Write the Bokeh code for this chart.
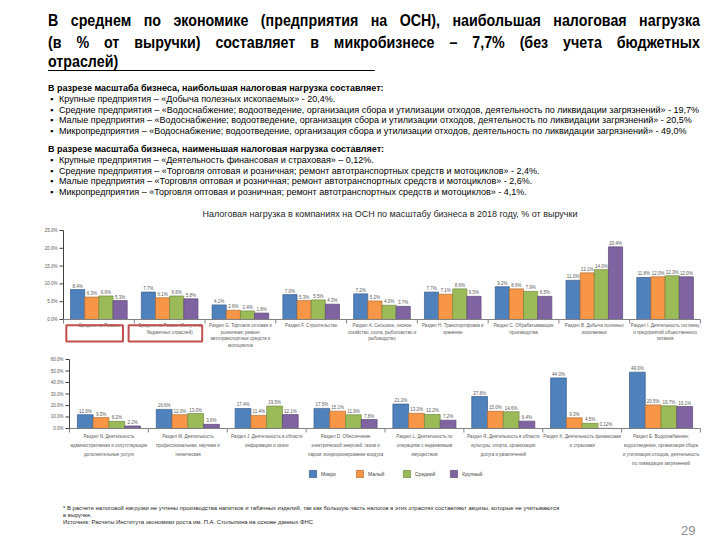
import math
from bokeh.plotting import figure
from bokeh.models import Div, Range1d, ColumnDataSource, Legend, LegendItem
from bokeh.layouts import column
from bokeh.embed import file_html
from bokeh.resources import INLINE
from bokeh.core.properties import value
from bokeh.transform import dodge

# ---------------- data ----------------
series_names = ["Микро", "Малый", "Средний", "Крупный"]

top_title = "Налоговая нагрузка в компаниях на ОСН по масштабу бизнеса в 2018 году, % от выручки"
top_categories = [
    "Среднее по России",
    "Среднее по России (без учета\nбюджетных отраслей)",
    "Раздел G. Торговля оптовая и\nрозничная; ремонт\nавтотранспортных средств и\nмотоциклов",
    "Раздел F. Строительство",
    "Раздел A. Сельское, лесное\nхозяйство, охота, рыболовство и\nрыбоводство",
    "Раздел H. Транспортировка и\nхранение",
    "Раздел C. Обрабатывающие\nпроизводства",
    "Раздел B. Добыча полезных\nископаемых",
    "Раздел I. Деятельность гостиниц\nи предприятий общественного\nпитания",
]
top_micro = [8.4, 7.7, 4.1, 7.0, 7.2, 7.7, 9.2, 11.0, 11.8]
top_small = [6.3, 6.1, 2.6, 5.3, 5.2, 7.1, 8.6, 13.1, 12.0]
top_medium = [6.6, 6.6, 2.4, 5.5, 4.0, 8.6, 7.9, 14.0, 12.3]
top_large = [5.3, 5.8, 1.8, 4.3, 3.7, 6.5, 6.5, 20.4, 12.0]
top_ticks = [0, 5, 10, 15, 20, 25]
top_highlight = [0, 1]

bottom_categories = [
    "Раздел N. Деятельность\nадминистративная и сопутствующие\nдополнительные услуги",
    "Раздел M. Деятельность\nпрофессиональная, научная и\nтехническая",
    "Раздел J. Деятельность в области\nинформации и связи",
    "Раздел D. Обеспечение\nэлектрической энергией, газом и\nпаром; кондиционирование воздуха",
    "Раздел L. Деятельность по\nоперациям с недвижимым\nимуществом",
    "Раздел R. Деятельность в области\nкультуры, спорта, организации\nдосуга и развлечений",
    "Раздел K. Деятельность финансовая\nи страховая",
    "Раздел E. Водоснабжение;\nводоотведение, организация сбора\nи утилизация отходов, деятельность\nпо ликвидации загрязнений",
]
bottom_micro = [12.0, 16.6, 17.4, 17.5, 21.2, 27.8, 44.0, 49.0]
bottom_small = [9.5, 12.0, 11.4, 15.1, 13.2, 15.0, 9.3, 20.5]
bottom_medium = [6.2, 13.0, 19.5, 11.9, 12.2, 14.6, 4.5, 19.7]
bottom_large = [2.2, 3.6, 12.1, 7.8, 7.2, 6.4, 0.12, 19.1]
bottom_ticks = [0, 10, 20, 30, 40, 50, 60]

# ---------------- style ----------------
COLORS = ["#4F81BD", "#F79646", "#9BBB59", "#8064A2"]
EDGES = ["#385D8A", "#B66D31", "#71893F", "#5C4776"]
FONT = "Liberation Sans"
OFFSETS = [-0.3, -0.1, 0.1, 0.3]
W = 720


def fmt(v):
    return f"{v:.2f}%" if v < 1 else f"{v:.1f}%"


def build_chart(cats, series, ticks, height, xr, yr, lab_off, lab_lh, lab_size):
    p = figure(width=W, height=height, x_range=Range1d(*xr), y_range=Range1d(*yr),
               x_axis_type=None, y_axis_type=None, toolbar_location=None,
               output_backend="svg", min_border=0, outline_line_color=None)
    p.background_fill_color = "white"
    p.border_fill_color = "white"
    n = len(cats)
    data = {"x": list(range(n)), "cat": cats}
    for k, s in enumerate(series):
        data[f"s{k}"] = s
        data[f"l{k}"] = [fmt(v) for v in s]
    src = ColumnDataSource(data)
    rends = []
    for k in range(len(series)):
        r = p.vbar(x=dodge("x", OFFSETS[k]), top=f"s{k}", width=0.2, source=src,
                   fill_color=COLORS[k], line_color=EDGES[k], line_width=0.7)
        rends.append(r)
        p.text(x=dodge("x", OFFSETS[k]), y=f"s{k}", text=f"l{k}", source=src,
               text_align="center", text_baseline="bottom", y_offset=-1,
               text_font=value(FONT), text_font_size="4.5px", text_color="#595959")
    # y axis
    p.segment(x0=[-0.5], y0=[0], x1=[-0.5], y1=[ticks[-1]], line_color="#404040", line_width=1)
    p.ray(x=[-0.5] * len(ticks), y=ticks, length=4, length_units="screen", angle=math.pi,
          line_color="#404040", line_width=1)
    p.text(x=[-0.5] * len(ticks), y=ticks, text=[f"{t:.1f}%" for t in ticks], x_offset=-6,
           text_align="right", text_baseline="middle", text_font=value(FONT),
           text_font_size="4.5px", text_color="#595959")
    # x axis
    p.segment(x0=[-0.5], y0=[0], x1=[n - 0.5], y1=[0], line_color="#808080", line_width=1)
    bounds = [i - 0.5 for i in range(n + 1)]
    p.ray(x=bounds, y=[0] * len(bounds), length=4, length_units="screen", angle=-math.pi / 2,
          line_color="#808080", line_width=1)
    p.text(x="x", y=0, text="cat", source=src, y_offset=lab_off, text_align="center",
           text_baseline="top", text_font=value(FONT), text_font_size=lab_size,
           text_color="#595959", text_line_height=lab_lh)
    return p, rends


# ---------------- top chart ----------------
p1, _ = build_chart(top_categories, [top_micro, top_small, top_medium, top_large], top_ticks,
                    145, (-1.390, 8.783), (-8.71, 32.02), 4, 1.3, "4.5px")
p1.text(x=[(len(top_categories) - 1) / 2], y=[top_ticks[-1]], text=[top_title], y_offset=-16,
        x_offset=8, text_align="center", text_baseline="middle", text_font=value(FONT),
        text_font_size="9px", text_color="#262626")
hl_half = [0.40, 0.52]
p1.quad(left=[h - 0.06 - w for h, w in zip(top_highlight, hl_half)],
        right=[h - 0.06 + w for h, w in zip(top_highlight, hl_half)],
        top=[-1.6] * len(top_highlight), bottom=[-6.2] * len(top_highlight),
        fill_color=None, line_color="#C0504D", line_width=2)

# ---------------- bottom chart ----------------
p2, rends = build_chart(bottom_categories, [bottom_micro, bottom_small, bottom_medium, bottom_large],
                        bottom_ticks, 135, (-1.375, 7.754), (-49.57, 67.83), 6, 1.75, "4.5px")
legend = Legend(items=[LegendItem(label=nm, renderers=[r]) for nm, r in zip(series_names, rends)],
                orientation="horizontal", location=(308, 7), glyph_width=9, glyph_height=9,
                label_standoff=4, spacing=14, padding=0, margin=0,
                label_text_font=FONT, label_text_font_size="5px", label_text_color="#404040",
                border_line_color=None, background_fill_alpha=0)
p2.add_layout(legend)

# ---------------- texts ----------------
line_css = "text-align:justify;text-align-last:justify;white-space:nowrap;"
title_html = (
    "<div style='padding-left:48px;padding-top:10px;'>"
    "<div style=\"width:778px;transform:scaleX(0.838);transform-origin:0 0;"
    "font-family:'Liberation Sans',Arial,sans-serif;font-weight:bold;font-size:17px;"
    "line-height:21.5px;color:#000;\">"
    f"<div style='{line_css}'>В среднем по экономике (предприятия на ОСН), наибольшая налоговая нагрузка</div>"
    f"<div style='{line_css}'>(в % от выручки) составляет в микробизнесе – 7,7% (без учета бюджетных</div>"
    "<div style='width:390px;border-bottom:1px solid #000;line-height:17px;'>отраслей)</div>"
    "</div></div>"
)
div_title = Div(text=title_html, width=W, height=80, margin=(0, 0, 0, 0))


def bullets(head, items):
    s = f"<div style='font-weight:bold;'>{head}</div>"
    for it in items:
        s += ("<div style='display:flex;'><span style='display:inline-block;width:11px;"
              "flex:none;padding-left:2px;'>▪</span><span>" + it + "</span></div>")
    return s


b1 = ["Крупные предприятия – «Добыча полезных ископаемых» - 20,4%.",
      "Средние предприятия –  «Водоснабжение; водоотведение, организация сбора и утилизации отходов, деятельность по ликвидации загрязнений» - 19,7%",
      "Малые предприятия – «Водоснабжение; водоотведение, организация сбора и утилизации отходов, деятельность по ликвидации загрязнений» - 20,5%",
      "Микропредприятия – «Водоснабжение; водоотведение, организация сбора и утилизации отходов, деятельность по ликвидации загрязнений» - 49,0%"]
b2 = ["Крупные предприятия – «Деятельность финансовая и страховая» – 0,12%.",
      "Средние предприятия – «Торговля оптовая и розничная; ремонт автотранспортных средств и мотоциклов» - 2,4%.",
      "Малые предприятия – «Торговля оптовая и розничная; ремонт автотранспортных средств и мотоциклов» - 2,6%.",
      "Микропредприятия – «Торговля оптовая и розничная; ремонт автотранспортных средств и мотоциклов» - 4,1%."]
bul_html = (
    "<div style=\"font-family:'Liberation Sans',Arial,sans-serif;font-size:9px;line-height:10.8px;"
    "color:#000;padding-left:48px;padding-top:3px;width:664px;white-space:nowrap;\">"
    + bullets("В разрезе масштаба бизнеса, наибольшая налоговая нагрузка составляет:", b1)
    + "<div style='height:7px'></div>"
    + bullets("В разрезе масштаба бизнеса, наименьшая налоговая нагрузка составляет:", b2)
    + "</div>"
)
div_bul = Div(text=bul_html, width=W, height=125, margin=(0, 0, 0, 0))

foot_html = (
    "<div style=\"position:relative;width:720px;height:55px;font-family:'Liberation Sans',Arial,sans-serif;\">"
    "<div style='position:absolute;left:63px;top:20px;font-size:5.9px;line-height:7px;color:#262626;white-space:nowrap;'>"
    "* В расчете налоговой нагрузки не учтены производства напитков и табачных изделий, так как большую часть налогов в этих отраслях составляют акцизы, которые не учитываются<br>"
    "в выручке.<br>"
    "Источник: Расчеты Института экономики роста им. П.А. Столыпина на основе данных ФНС</div>"
    "<div style='position:absolute;left:681px;top:37px;font-size:13px;color:#8C8C8C;'>29</div>"
    "</div>"
)
div_foot = Div(text=foot_html, width=W, height=55, margin=(0, 0, 0, 0))

layout = column(div_title, div_bul, p1, p2, div_foot, spacing=0)
open("out.html", "w").write(file_html(layout, INLINE))
